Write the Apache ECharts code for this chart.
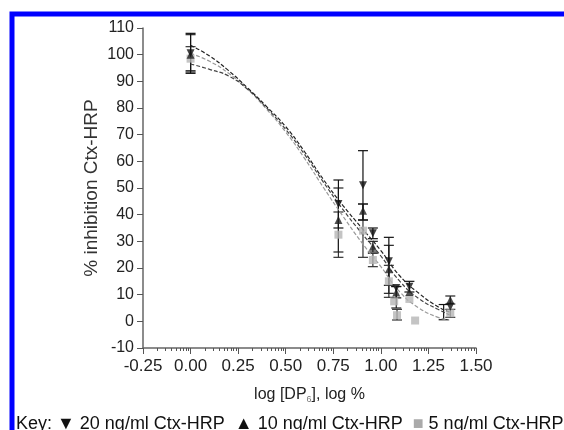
<!DOCTYPE html>
<html lang="en">
<head>
  <meta charset="UTF-8">
  <title>Inhibition</title>
  <style>
    html, body { margin: 0; padding: 0; background: #fff; }
  </style>
</head>
<body>
  <div id="main" style="width:564px;height:430px;"></div>
  <script src="https://cdn.jsdelivr.net/npm/echarts@6/dist/echarts.min.js"></script>
  <script>
    var myChart = echarts.init(document.getElementById('main'))

    // measured points [log dose, % inhibition]
    var pts20 = [[0, 100.5], [0.777, 44], [0.906, 51], [0.958, 33], [1.042, 22.5], [1.081, 12.5], [1.15, 13], [1.365, 5.5]]
    var pts10 = [[0, 100], [0.777, 38], [0.906, 41.5], [0.958, 28], [1.042, 19.5], [1.081, 10.8], [1.15, 11], [1.365, 8]]
    var pts5 = [[0, 98.5], [0.777, 32.5], [0.906, 34], [0.958, 23], [1.042, 15], [1.07, 7.5], [1.085, 2.3], [1.15, 8.4], [1.18, 0.3], [1.365, 3]]

    // error bars [x, low, high]
    var err20 = [[0, 93, 108], [0.777, 35, 53], [0.906, 38, 64], [0.958, 31, 35], [1.042, 13.5, 31.5], [1.081, 8.8, 13.1], [1.15, 11, 15], [1.33, 0.6, 6.3]]
    var err10 = [[0, 93.5, 107.5], [0.777, 26, 50], [0.906, 38, 44], [0.958, 26, 30], [1.042, 10.5, 28.5], [1.081, 5, 13], [1.365, 6.5, 9.5]]
    var err5 = [[0, 94, 103], [0.777, 24, 41], [0.906, 24, 44], [0.958, 20.5, 25.5], [1.042, 9, 21], [1.085, 0.5, 4.5], [1.365, 1.5, 4.5]]

    // fitted curves
    var fitX = [0, 0.1, 0.2, 0.3, 0.4, 0.5, 0.6, 0.7, 0.8, 0.9, 1.0, 1.1, 1.2, 1.3, 1.36]
    var fit20 = [103.5, 99.5, 94, 87.5, 80.5, 73, 63.5, 53, 43.5, 35, 26.5, 17, 10.5, 5.5, 3.5]
    var fit10 = [96.5, 94.5, 92, 87, 80, 72, 62.5, 52, 42, 33, 24.5, 15, 8.5, 4.5, 2.5]
    var fit5 = [100.5, 97.5, 93, 87, 79.5, 71, 61, 50, 39.5, 29.5, 20.5, 11, 5, 1.5, 0.5]

    // x axis: major ticks every 0.25, log-style minor ticks inside each step
    var majorTicks = [-0.25, 0, 0.25, 0.5, 0.75, 1, 1.25, 1.5]
    var minorSteps = [2, 3, 4, 5, 6, 7, 8, 9]
    var minorTicks = []
    for (var i = 0; i < majorTicks.length - 1; i++) {
      minorSteps.forEach(function (k) {
        minorTicks.push(majorTicks[i] + 0.25 * Math.log10(k))
      })
    }

    function pair(xs, ys) {
      return xs.map(function (x, i) { return [x, ys[i]] })
    }

    function errSeries(data, color) {
      return {
        type: 'custom',
        data: data,
        z: 1,
        renderItem: function (params, api) {
          var x = api.value(0)
          var lo = api.coord([x, api.value(1)])
          var hi = api.coord([x, api.value(2)])
          var w = 5
          var st = { stroke: color, lineWidth: 1.2 }
          return {
            type: 'group',
            children: [
              { type: 'line', shape: { x1: lo[0], y1: lo[1], x2: hi[0], y2: hi[1] }, style: st },
              { type: 'line', shape: { x1: lo[0] - w, y1: lo[1], x2: lo[0] + w, y2: lo[1] }, style: st },
              { type: 'line', shape: { x1: hi[0] - w, y1: hi[1], x2: hi[0] + w, y2: hi[1] }, style: st }
            ]
          }
        }
      }
    }

    function fitSeries(ys, color) {
      return {
        type: 'line',
        data: pair(fitX, ys),
        smooth: true,
        symbol: 'none',
        z: 2,
        lineStyle: { color: color, width: 1.2, type: [4, 2] }
      }
    }

    var ff = 'Liberation Sans, Arial, sans-serif'

    var options = {
      animation: false,
      grid: { left: 143, right: 88, top: 28, bottom: 82 },
      title: {
        left: 11,
        top: 410,
        text: 'Key: ▼ 20 ng/ml Ctx-HRP  ▲ 10 ng/ml Ctx-HRP  {sq|■} 5 ng/ml Ctx-HRP',
        textStyle: {
          fontFamily: ff,
          fontSize: 18,
          fontWeight: 'normal',
          color: '#111',
          rich: { sq: { color: '#aaa', fontSize: 18 } }
        }
      },
      graphic: [{
        type: 'rect',
        shape: { x: 12, y: 14, width: 620, height: 480 },
        style: { fill: 'none', stroke: '#0000ff', lineWidth: 5 },
        z: 100,
        silent: true
      }],
      xAxis: [{
        type: 'value',
        min: -0.25,
        max: 1.5,
        interval: 0.25,
        splitLine: { show: false },
        axisLine: { onZero: false, lineStyle: { color: '#666', width: 1.5 } },
        axisTick: { length: 6, lineStyle: { color: '#555' } },
        axisLabel: { margin: 10, fontFamily: ff, fontSize: 17, color: '#222', formatter: function (v) { return v.toFixed(2) } },
        name: 'log [DP{sub|6}], log %',
        nameLocation: 'middle',
        nameGap: 38,
        nameTextStyle: {
          fontFamily: ff,
          fontSize: 16,
          color: '#222',
          rich: { sub: { fontSize: 9, verticalAlign: 'bottom', padding: [9, 0, 0, 0], color: '#777' } }
        }
      }, {
        type: 'value',
        min: -0.25,
        max: 1.5,
        position: 'bottom',
        axisLine: { show: false, onZero: false },
        splitLine: { show: false },
        axisLabel: { show: false },
        axisTick: { show: true, length: 3, customValues: minorTicks, lineStyle: { color: '#555' } }
      }],
      yAxis: {
        type: 'value',
        min: -10,
        max: 110,
        interval: 10,
        splitLine: { show: false },
        axisLine: { show: true, onZero: false, lineStyle: { color: '#666', width: 1.5 } },
        axisTick: { show: true, length: 6, lineStyle: { color: '#555' } },
        axisLabel: { margin: 9, fontFamily: ff, fontSize: 16, color: '#222' },
        name: '% inhibition Ctx-HRP',
        nameLocation: 'middle',
        nameGap: 42,
        nameMoveOverlap: false,
        nameTextStyle: { fontFamily: ff, fontSize: 19, color: '#333' }
      },
      series: [
        errSeries(err5, '#333'),
        errSeries(err10, '#222'),
        errSeries(err20, '#111'),
        fitSeries(fit5, '#999'),
        fitSeries(fit10, '#444'),
        fitSeries(fit20, '#222'),
        { type: 'scatter', data: pts5, symbol: 'rect', symbolSize: 8, z: 3, itemStyle: { color: '#b5b5b5' } },
        { type: 'scatter', data: pts10, symbol: 'triangle', symbolSize: 8, z: 4, itemStyle: { color: '#222' } },
        { type: 'scatter', data: pts20, symbol: 'triangle', symbolRotate: 180, symbolSize: 8, z: 4, itemStyle: { color: '#111' } }
      ]
    }
    myChart.setOption(options)
  </script>
</body>
</html>
